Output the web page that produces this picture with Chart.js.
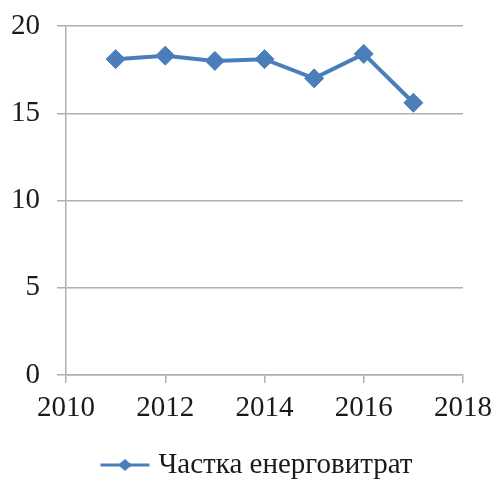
<!DOCTYPE html>
<html>
<head>
<meta charset="utf-8">
<script src="https://cdn.jsdelivr.net/npm/chart.js@4/dist/chart.umd.min.js"></script>
<style>
  html, body { margin: 0; padding: 0; background: #ffffff; }
  #wrap { width: 495px; height: 482px; }
</style>
</head>
<body>
<div id="wrap"><canvas id="chart" width="495" height="482"></canvas></div>
<script>
// Share of energy costs by year
const years = [2011, 2012, 2013, 2014, 2015, 2016, 2017];
const shareValues = [18.1, 18.3, 18.0, 18.1, 17.0, 18.4, 15.6];
const seriesLabel = 'Частка енерговитрат';
const xTicks = [2010, 2012, 2014, 2016, 2018];
const yTicks = [0, 5, 10, 15, 20];

const LINE_COLOR = '#4a7ebb';
const TEXT_COLOR = '#1a1a1a';
const GRID_COLOR = '#b0b0b0';
const FONT = { family: '"Liberation Serif", "Times New Roman", serif', size: 29 };

// Legend icon: short line with a small diamond marker in the middle
const ICON_W = 76, ICON_H = 20, BOX_W = 61.5;
function makeLegendIcon() {
  const c = document.createElement('canvas');
  c.width = ICON_W; c.height = ICON_H;
  const g = c.getContext('2d');
  const x0 = 25.25, x1 = 74.25, cy = ICON_H / 2, mid = (x0 + x1) / 2;
  g.strokeStyle = LINE_COLOR; g.lineWidth = 3;
  g.beginPath(); g.moveTo(x0, cy); g.lineTo(x1, cy); g.stroke();
  g.fillStyle = LINE_COLOR;
  g.beginPath();
  g.moveTo(mid - 7, cy); g.lineTo(mid, cy - 6); g.lineTo(mid + 7, cy); g.lineTo(mid, cy + 6);
  g.closePath(); g.fill();
  return c;
}
const legendIcon = makeLegendIcon();

const points = years.map((y, i) => ({ x: y, y: shareValues[i] }));

new Chart(document.getElementById('chart'), {
  type: 'line',
  data: {
    datasets: [{
      label: seriesLabel,
      data: points,
      borderColor: LINE_COLOR,
      backgroundColor: LINE_COLOR,
      borderWidth: 4,
      pointStyle: 'rectRot',
      pointRadius: 9.5,
      pointHoverRadius: 9.5,
      pointBorderWidth: 1,
      tension: 0,
      fill: false
    }]
  },
  options: {
    responsive: false,
    animation: false,
    layout: { padding: { left: 0, right: 0, top: 0, bottom: -7.5 } },
    plugins: {
      tooltip: { enabled: false },
      legend: {
        display: true,
        position: 'bottom',
        labels: {
          usePointStyle: true,
          pointStyleWidth: BOX_W,
          color: TEXT_COLOR,
          font: FONT,
          padding: 3,
          generateLabels(chart) {
            const items = Chart.defaults.plugins.legend.labels.generateLabels(chart);
            items.forEach(it => { it.pointStyle = legendIcon; });
            return items;
          }
        }
      }
    },
    scales: {
      x: {
        type: 'linear',
        min: xTicks[0],
        max: xTicks[xTicks.length - 1],
        afterBuildTicks(scale) { scale.ticks = xTicks.map(v => ({ value: v })); },
        afterFit(scale) {
          scale.height = 72.5;
          scale.paddingLeft = 0;
          scale.paddingRight = 32;
        },
        ticks: {
          color: TEXT_COLOR,
          font: FONT,
          padding: 8,
          maxRotation: 0,
          callback: v => String(v)
        },
        grid: {
          drawOnChartArea: false,
          drawTicks: true,
          tickLength: 8,
          color: GRID_COLOR,
          lineWidth: 1.5
        },
        border: { display: true, color: GRID_COLOR, width: 1.5 }
      },
      y: {
        min: yTicks[0],
        max: yTicks[yTicks.length - 1],
        afterBuildTicks(scale) { scale.ticks = yTicks.map(v => ({ value: v })); },
        afterFit(scale) {
          scale.width = 66;
          scale.paddingTop = 26;
        },
        ticks: {
          color: TEXT_COLOR,
          font: FONT,
          padding: 17,
          callback: v => String(v)
        },
        grid: {
          drawTicks: true,
          tickLength: 9,
          color: GRID_COLOR,
          lineWidth: 1.5
        },
        border: { display: true, color: GRID_COLOR, width: 1.5 }
      }
    }
  }
});
</script>
</body>
</html>
